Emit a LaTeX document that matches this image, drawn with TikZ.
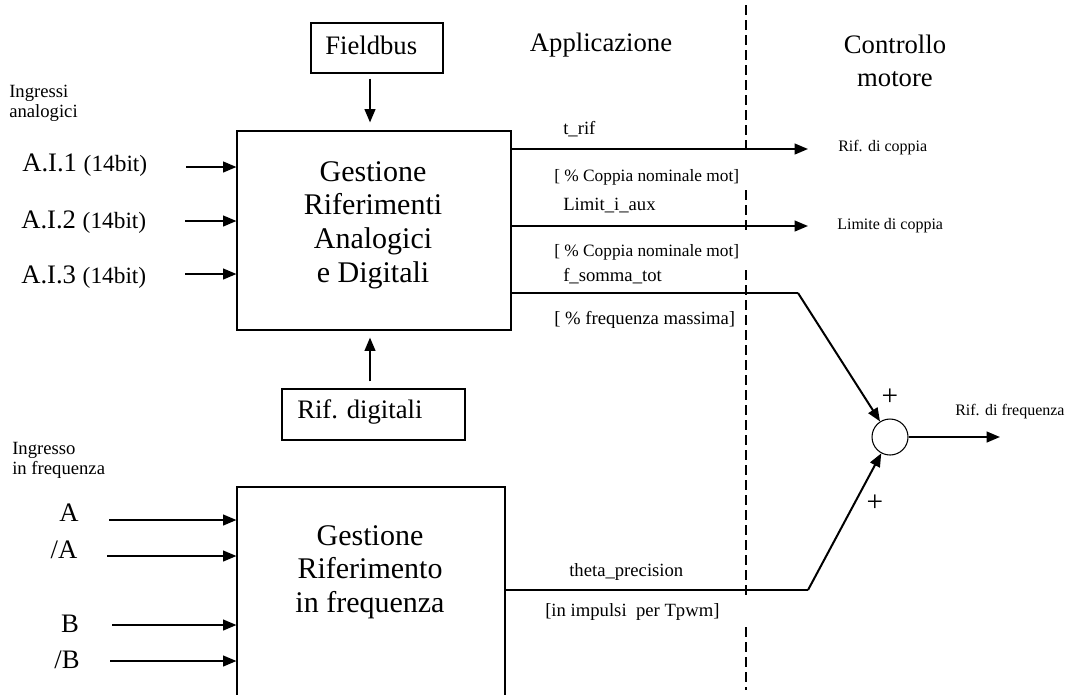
\documentclass[tikz,border=0pt]{standalone}
\usepackage{fontspec}
\setmainfont{Liberation Serif}
\usetikzlibrary{arrows.meta}
\begin{document}
\begin{tikzpicture}[x=0.75pt,y=-0.75pt,
  boxshape/.style={draw, line width=0.8pt, inner sep=0pt},
  big/.style={font=\fontsize{20}{25.3}\selectfont, align=center, inner sep=0pt},
  boxtext/.style={font=\fontsize{22.5}{25.3}\selectfont, align=center, inner sep=0pt},
  small/.style={font=\fontsize{12}{15}\selectfont, inner sep=0pt},
  linelbl/.style={font=\fontsize{14}{16}\selectfont, inner sep=0pt, anchor=west},
  lbl/.style={font=\fontsize{14}{15}\selectfont, inner sep=0pt, align=left},
  plus/.style={font=\fontsize{22}{24}\selectfont, inner sep=0pt},
  arr/.style={line width=1.5pt, -{Triangle[length=10pt,width=8pt]}},
  thinl/.style={line width=0.8pt},
  divider/.style={line width=1.5pt, dash pattern=on 7.5pt off 3.75pt}
]
\useasboundingbox (0,0) rectangle (1087,694);

% boxes
\node[boxshape, minimum width=99pt, minimum height=37.5pt] (fb) at (377,48) {};
\node[big, anchor=west] (fbt) at (325,45) {Fieldbus};
\node[boxshape, minimum width=205.5pt, minimum height=149.25pt] (g1) at (374,230.5) {};
\node[boxtext] (g1t) at (373,225) {Gestione\\Riferimenti\\Analogici\\e Digitali};
\node[boxshape, minimum width=137.25pt, minimum height=38.25pt] (rd) at (373.5,414.5) {};
\node[big, anchor=west] (rdt) at (297,412) {Rif. digitali};
\node[boxshape, minimum width=201pt, minimum height=180pt] (g2) at (371,607) {};
\node[boxtext] (g2t) at (370,572) {Gestione\\Riferimento\\in frequenza};

% headings
\node[big] (app) at (601,45) {Applicazione};
\node[big] (cm) at (895,61) {Controllo\\motore};

% left labels
\node[lbl, anchor=west] (ia) at (9,103) {Ingressi\\analogici};
\node[lbl, anchor=west] (if) at (12,460) {Ingresso\\in frequenza};
\node[big, anchor=west] (l1) at (22,165) {A.I.1 \fontsize{17.5}{19}\selectfont(14bit)};
\node[big, anchor=west] (l2) at (21,222) {A.I.2 \fontsize{17.5}{19}\selectfont(14bit)};
\node[big, anchor=west] (l3) at (21,277) {A.I.3 \fontsize{17.5}{19}\selectfont(14bit)};
\node[big] (la) at (69,513) {A};
\node[big] (lna) at (64,550) {/A};
\node[big] (lb) at (70,624) {B};
\node[big] (lnb) at (67,660) {/B};

% input arrows
\coordinate (ai1) at (186,167);
\coordinate (ai2) at (185,221);
\coordinate (ai3) at (185,274);
\coordinate (ia1) at (109,520);
\coordinate (ia2) at (107,556);
\coordinate (ib1) at (112,625);
\coordinate (ib2) at (110,661);
\foreach \c in {ai1,ai2,ai3} \draw[arr] (\c) -- (\c -| g1.west);
\foreach \c in {ia1,ia2,ib1,ib2} \draw[arr] (\c) -- (\c -| g2.west);

% top / bottom arrows
\draw[arr, shorten <=3.75pt, shorten >=6pt] (fb.south -| 370,0) -- (g1.north -| 370,0);
\draw[arr, shorten <=5.25pt, shorten >=5.25pt] (rd.north -| 370,0) -- (g1.south -| 370,0);

% outputs
\coordinate (trif) at (808,149);
\coordinate (limc) at (808,226);
\coordinate (fs) at (798,293);
\coordinate (th) at (808,590);
\coordinate (out) at (1000,437);
\draw[arr] (trif -| g1.east) -- (trif);
\draw[arr] (limc -| g1.east) -- (limc);
\draw[thinl] (fs -| g1.east) -- (fs);
\draw[thinl] (th -| g2.east) -- (th);

\node[draw, line width=0.8pt, circle, minimum size=27pt, inner sep=0pt] (sum) at (890,437) {};
\draw[arr] (fs) -- (sum);
\draw[arr] (th) -- (sum);
\draw[arr] (sum) -- (out);

% output labels
\node[linelbl] (t1) at (563,129) {t\_rif};
\node[linelbl, font=\fontsize{13}{15}\selectfont] (t2) at (554,177) {[ \% Coppia nominale mot]};
\node[linelbl] (t3) at (563,206) {Limit\_i\_aux};
\node[linelbl, font=\fontsize{13}{15}\selectfont] (t4) at (554,252) {[ \% Coppia nominale mot]};
\node[linelbl] (t5) at (563,276) {f\_somma\_tot};
\node[linelbl] (t6) at (554,320) {[ \% frequenza massima]};
\node[linelbl] (t7) at (569,572) {theta\_precision};
\node[linelbl] (t8) at (545,612) {[in impulsi\ \ per Tpwm]};
\node[small, anchor=west] (r1) at (838,148) {Rif. di coppia};
\node[small, anchor=west] (r2) at (837,226) {Limite di coppia};
\node[small, anchor=west] (r3) at (955,412) {Rif. di frequenza};
\node[plus] (p1) at (890,397) {+};
\node[plus] (p2) at (875,503) {+};

% divider
\coordinate (d0) at (746,5);
\coordinate (d1) at (746,155);
\coordinate (d2) at (746,190);
\coordinate (d3) at (746,235);
\coordinate (d4) at (746,270);
\coordinate (d5) at (746,595);
\coordinate (d6) at (746,627);
\coordinate (d7) at (746,690);
\draw[divider] (d0) -- (d1) (d2) -- (d3) (d4) -- (d5) (d6) -- (d7);
\end{tikzpicture}
\end{document}
